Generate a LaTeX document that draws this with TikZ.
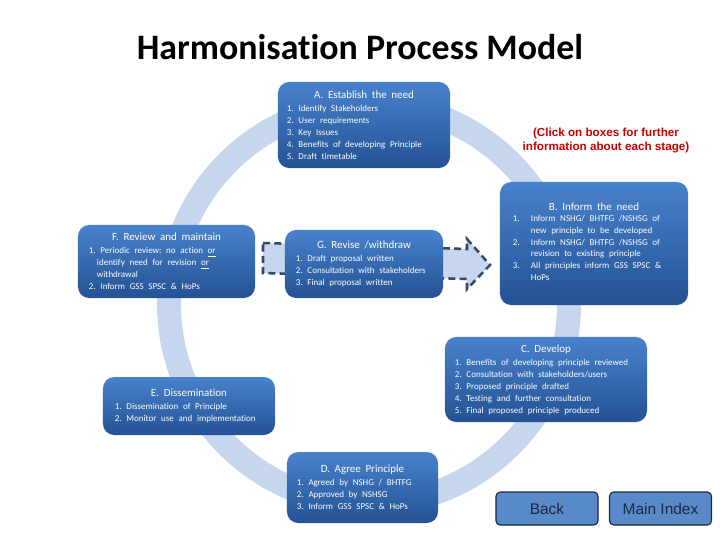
\documentclass[tikz,border=0pt]{standalone}
\usepackage{fontspec}
\setmainfont{Carlito}[Ligatures=NoCommon]
\newfontfamily\arialfont{Liberation Sans}
\frenchspacing

\definecolor{ringblue}{RGB}{198,214,238}
\definecolor{boxtop}{RGB}{72,130,204}
\definecolor{boxbot}{RGB}{36,82,148}
\definecolor{clickred}{RGB}{200,0,0}
\definecolor{btnblue}{RGB}{88,138,202}
\definecolor{btnedge}{RGB}{28,40,66}
\definecolor{navtext}{RGB}{30,40,64}
\definecolor{dashedge}{RGB}{52,74,108}

\newcommand{\stitle}[1]{{\centering\fontsize{7.8}{9.8}\selectfont #1\par}\vspace{0.8pt}}
\newcommand{\slist}{\fontsize{6.4}{8.5}\selectfont\raggedright}

\tikzset{
  stage/.style={rounded corners=8pt, top color=boxtop, bottom color=boxbot, text=white, inner ysep=0pt},
  ringband/.style={draw=ringblue, line width=0.6cm},
  revarrow/.style={fill=ringblue, draw=dashedge, line width=1.8pt, dash pattern=on 5pt off 3pt},
  navbtn/.style={draw=btnedge, fill=btnblue, rounded corners=3pt, line width=0.8pt, text=navtext,
    font=\arialfont\fontsize{11}{13}\selectfont, minimum width=2.55cm, minimum height=0.825cm}
}

\begin{document}
\begin{tikzpicture}[x=0.025cm, y=-0.025cm]
\useasboundingbox (0,0) rectangle (720,540);

\node[anchor=base, font=\bfseries\fontsize{25.5}{30}\selectfont] (title) at (360,59) {Harmonisation Process Model};

% cycle ring behind the stages
\draw[ringband] (369,304) circle[radius=200];

% revise / withdraw arrow
\draw[revarrow] (263,243) -- (467,249) -- (467,239) -- (490,265) -- (467,289) -- (467,279) -- (263,273) -- cycle;

\node[stage, text width=3.85cm, inner xsep=0.225cm, minimum height=2.15cm] (establish) at (364,125)
  {\stitle{A. Establish the need}\slist
   1. Identify Stakeholders\par
   2. User requirements\par
   3. Key Issues\par
   4. Benefits of developing Principle\par
   5. Draft timetable\par};

\node[stage, text width=4.05cm, inner xsep=0.325cm, minimum height=3.075cm] (inform) at (594,243.5)
  {\stitle{B. Inform the need}\slist
   \begin{tabular}{@{}p{0.45cm}@{}l@{}}
   1. & Inform NSHG/ BHTFG /NSHSG of\\
      & new principle to be developed\\
   2. & Inform NSHG/ BHTFG /NSHSG of\\
      & revision to existing principle\\
   3. & All principles inform GSS SPSC \&\\
      & HoPs
   \end{tabular}\par};

\node[stage, text width=4.55cm, inner xsep=0.25cm, minimum height=2.125cm] (develop) at (546,379.5)
  {\stitle{C. Develop}\slist
   1. Benefits of developing principle reviewed\par
   2. Consultation with stakeholders/users\par
   3. Proposed principle drafted\par
   4. Testing and further consultation\par
   5. Final proposed principle produced\par};

\node[stage, text width=3.275cm, inner xsep=0.25cm, minimum height=1.775cm] (agree) at (362.5,487.5)
  {\stitle{D. Agree Principle}\slist
   1. Agreed by NSHG / BHTFG\par
   2. Approved by NSHSG\par
   3. Inform GSS SPSC \& HoPs\par};

\node[stage, text width=3.7cm, inner xsep=0.3cm, minimum height=1.45cm] (dissem) at (189,406)
  {\stitle{E. Dissemination}\slist
   1. Dissemination of Principle\par
   2. Monitor use and implementation\par};

\node[stage, text width=3.875cm, inner xsep=0.275cm, minimum height=1.825cm] (review) at (166.5,261.5)
  {\stitle{F. Review and maintain}\slist
   \hangindent=5.7pt\hangafter=1
   1. Periodic review: no action \underline{or}\newline
   identify need for revision \underline{or}\newline
   withdrawal\par
   2. Inform GSS SPSC \& HoPs\par};

\node[stage, text width=3.4cm, inner xsep=0.275cm, minimum height=1.7cm] (revise) at (364,264)
  {\stitle{G. Revise /withdraw}\slist
   1. Draft proposal written\par
   2. Consultation with stakeholders\par
   3. Final proposal written\par};

\node[align=center, text=clickred, font=\arialfont\bfseries\fontsize{8.3}{10.4}\selectfont] (click) at (606,140.5)
  {(Click on boxes for further\\information about each stage)};

\node[navbtn] (back) at (547,508.5) {Back};
\node[navbtn] (mainidx) at (660.5,508.5) {Main Index};
\end{tikzpicture}
\end{document}
